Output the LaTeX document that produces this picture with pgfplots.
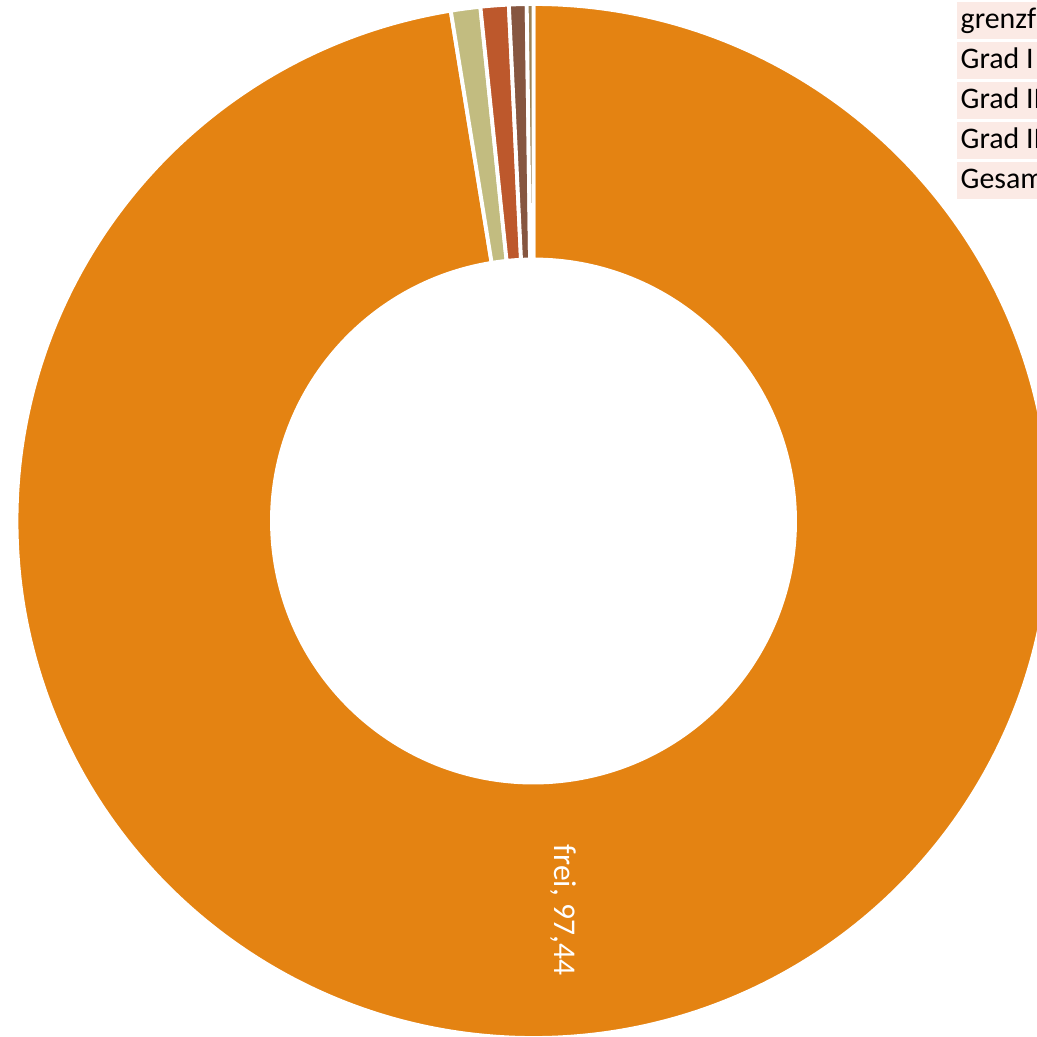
\documentclass[border=0pt]{standalone}
\usepackage{pgfplots}
\pgfplotsset{compat=1.18}
\usepackage{fontspec}
\setmainfont{Carlito}
\definecolor{cFrei}{HTML}{E48312}
\definecolor{cGrenz}{HTML}{C2BC80}
\definecolor{cGa}{HTML}{BD582C}
\definecolor{cGb}{HTML}{865640}
\definecolor{cGc}{HTML}{9B8357}
\definecolor{legbg}{HTML}{FBEAE5}
\begin{document}
\begin{tikzpicture}
\begin{axis}[
  hide axis, scale only axis,
  width=10.37cm, height=10.36cm,
  xmin=0, xmax=1037, ymin=0, ymax=1036,
  clip=true,
]
\pgfplotsextra{
\begin{scope}
\clip (axis cs:0,0) rectangle (axis cs:1037,1036);
% donut: centre (533.5, 1036-521), outer r 517 px, inner r 261.5 px (1 px = 0.01 cm)
\def\cx{533.5}\def\cy{515}
\def\Ro{5.17cm}\def\Ri{2.615cm}
\gdef\startang{90}
\foreach \v/\col in {97.44/cFrei, 0.92/cGrenz, 0.88/cGa, 0.55/cGb, 0.21/cGc}{
  \pgfmathsetmacro\endang{\startang-3.6*\v}
  \fill[\col, draw=white, line width=1.1pt, line join=round]
    (axis cs:\cx,\cy) ++(\startang:\Ro) arc[start angle=\startang, end angle=\endang, radius=\Ro]
    -- ++(\endang:-2.555cm) arc[start angle=\endang, end angle=\startang, radius=\Ri] -- cycle;
  \global\let\startang\endang
}
\node[white, rotate=-90, font=\fontsize{9}{10}\selectfont, anchor=center]
  at (axis cs:563,126) {frei, 97,44};
% legend (clipped by the picture edge)
\foreach \t [count=\i] in {grenzfrei, Grad I, Grad II, Grad III, Gesamt}{
  \pgfmathsetmacro\ytop{1036-2-40*(\i-1)}
  \pgfmathsetmacro\ybot{\ytop-37}
  \pgfmathsetmacro\ybase{\ytop-26.5}
  \fill[legbg] (axis cs:957,\ytop) rectangle (axis cs:1100,\ybot);
  \node[anchor=base west, inner sep=0pt, font=\fontsize{8.5}{10}\selectfont]
    at (axis cs:960,\ybase) {\t};
}
\end{scope}
}
\end{axis}
\pgfresetboundingbox
\path[use as bounding box] (current axis.south west) rectangle (current axis.north east);
\end{tikzpicture}
\end{document}
